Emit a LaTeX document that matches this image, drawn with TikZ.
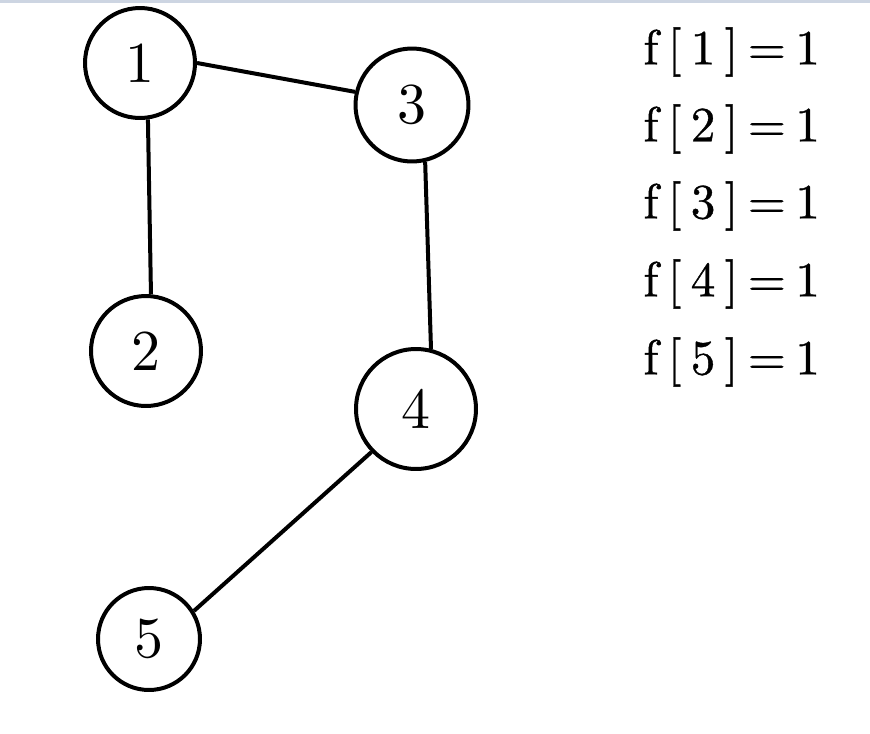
\documentclass[tikz,border=0pt]{standalone}
\usepackage{fontspec}
\usepackage{tikz}
\usetikzlibrary{positioning}
\definecolor{topband}{RGB}{205,213,226}
\newfontfamily\numfont{lmroman10-regular}[Extension=.otf]
\newfontfamily\valfont{lmroman10-regular}[Extension=.otf, LetterSpace=19, FakeBold=0.8]

\begin{document}
\begin{tikzpicture}[x=0.02cm, y=-0.02cm,
    vert/.style={circle, draw, line width=0.08cm, inner sep=0pt, minimum size=2.2cm, font=\numfont\fontsize{33}{36}\selectfont},
    edge/.style={line width=0.08cm},
    val/.style={anchor=west, inner sep=0pt, font=\valfont\fontsize{28}{32}\selectfont}
]
    \useasboundingbox (0,0) rectangle (870,734);
    \fill[topband] (0,0) rectangle (870,2.5);

    \node[vert] (n1) at (140,63) {1};
    \node[vert] (n2) at (146,351) {2};
    \node[vert, minimum size=2.26cm] (n3) at (412,105) {3};
    \node[vert, minimum size=2.4cm] (n4) at (416,409) {4};
    \node[vert, minimum size=2.04cm] (n5) at (149,639) {5};

    \draw[edge] (n1.0) -- (n3.167);
    \draw[edge] (n1.-82) -- (n2.85);
    \draw[edge] (n3.-77) -- (n4.76);
    \draw[edge] (n4.-136) -- (n5.32);

    \node[val] (f1) at (643,52) {f[1]=1};
    \node[val] (f2) at (643,129) {f[2]=1};
    \node[val] (f3) at (643,206) {f[3]=1};
    \node[val] (f4) at (643,284) {f[4]=1};
    \node[val] (f5) at (643,362) {f[5]=1};
\end{tikzpicture}
\end{document}
